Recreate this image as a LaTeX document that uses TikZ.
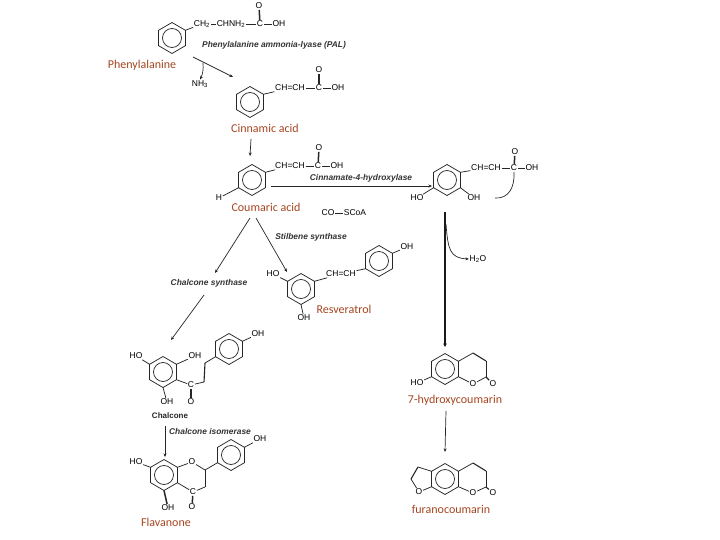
\documentclass[tikz,border=0pt]{standalone}
\usepackage{fontspec}
\setmainfont{Liberation Sans}
\newfontfamily\labelfont{Carlito}
\usetikzlibrary{arrows.meta}
\definecolor{labelbrown}{HTML}{A5451F}
\tikzset{
  bond/.style={line width=0.75pt,black!85},
  dbond/.style={line width=1.5pt,black!85},
  ringdbond/.style={line width=1.1pt,black!85},
  arrowline/.style={line width=0.7pt,black!85,-{Stealth[length=3.5pt,width=3pt]}},
  plainline/.style={line width=0.7pt,black!85},
  heavyline/.style={line width=1.3pt,black!90,-{Stealth[length=3.5pt,width=3.5pt]}},
  atom/.style={font=\fontsize{8.5}{9}\selectfont,inner sep=0.6pt,text=black},
  enzyme/.style={font=\fontsize{8.4}{9}\selectfont\bfseries\itshape,inner sep=0.5pt,text=black!80},
  compound/.style={font=\labelfont\fontsize{12}{13}\selectfont,inner sep=0.5pt,text=labelbrown},
  capname/.style={font=\fontsize{8}{9}\selectfont\bfseries,inner sep=0.5pt,text=black!85}
}
\newcommand{\chemring}[3]{%
  \path (#2,#3-15.5) coordinate (#1t) (#2+13.4,#3-7.7) coordinate (#1ur)
        (#2+13.4,#3+7.7) coordinate (#1lr) (#2,#3+15.5) coordinate (#1b)
        (#2-13.4,#3+7.7) coordinate (#1ll) (#2-13.4,#3-7.7) coordinate (#1ul);
  \draw[bond] (#1t)--(#1ur)--(#1lr)--(#1b)--(#1ll)--(#1ul)--cycle;
  \draw[bond] (#2,#3) circle (9.5pt);
}
\begin{document}
\begin{tikzpicture}[x=1pt,y=-1pt]
\useasboundingbox (0,0) rectangle (720,540);
% Phenylalanine
\chemring{phe}{172}{38}
\node[atom] (pCH) at (202,24) {CH\textsubscript{2}};
\node[atom] (pCHN) at (231,24) {CHNH\textsubscript{2}};
\node[atom] (pC) at (260,24) {C};
\node[atom] (pOH) at (279,24) {OH};
\node[atom] (pO) at (259,6) {O};
\draw[bond] (pheur)--(pCH);
\draw[bond] (pCH)--(pCHN);
\draw[bond] (pCHN)--(pC);
\draw[bond] (pC)--(pOH);
\draw[dbond] (pO)--(pC);
\node[enzyme] (pal) at (274,45) {Phenylalanine ammonia-lyase (PAL)};
\node[compound] (lphe) at (142,65) {Phenylalanine};
\coordinate (a1) at (193,57);
\coordinate (a2) at (233,77);
\coordinate (a3) at (203,63);
\node[atom] (nh3) at (200,84) {NH\textsubscript{3}};
\draw[arrowline] (a1)--(a2);
\draw[arrowline] (a3) to[bend left=15] (nh3.north);
% Cinnamic acid
\chemring{cin}{250}{102}
\node[atom] (cCH) at (290,88) {CH=CH};
\node[atom] (cC) at (319,88) {C};
\node[atom] (cOH) at (338,88) {OH};
\node[atom] (cO) at (319,70) {O};
\draw[bond] (cinur)--(cCH);
\draw[bond] (cCH)--(cC);
\draw[bond] (cC)--(cOH);
\draw[dbond] (cO)--(cC);
\node[compound] (lcin) at (265,128) {Cinnamic acid};
\coordinate (b1) at (251,139);
\coordinate (b2) at (250,156);
\draw[arrowline] (b1)--(b2);
% Coumaric acid
\chemring{cou}{252}{180}
\node[atom] (uCH) at (290,166) {CH=CH};
\node[atom] (uC) at (318,166) {C};
\node[atom] (uOH) at (337,166) {OH};
\node[atom] (uO) at (319,148) {O};
\node[atom] (uH) at (219,198) {H};
\draw[bond] (couur)--(uCH);
\draw[bond] (uCH)--(uC);
\draw[bond] (uC)--(uOH);
\draw[dbond] (uO)--(uC);
\draw[bond] (coull)--(uH);
\node[compound] (lcou) at (266,207) {Coumaric acid};
\node[enzyme] (c4h) at (361,178) {Cinnamate-4-hydroxylase};
\coordinate (d1) at (271,186);
\coordinate (d2) at (432,186);
\draw[arrowline] (d1)--(d2);
\node[atom] (sc1) at (328,213) {CO};
\node[atom] (sc2) at (355,213) {SCoA};
\draw[bond] (sc1)--(sc2);
\node[enzyme] (sts) at (311,237) {Stilbene synthase};
\node[enzyme] (chs) at (209,283) {Chalcone synthase};
% Caffeic
\chemring{caf}{447}{180}
\node[atom] (fCH) at (486,168) {CH=CH};
\node[atom] (fC) at (514,168) {C};
\node[atom] (fOH) at (532,168) {OH};
\node[atom] (fO) at (515,152) {O};
\node[atom] (fHO) at (417,198) {HO};
\node[atom] (fOH2) at (474,198) {OH};
\draw[bond] (cafur)--(fCH);
\draw[bond] (fCH)--(fC);
\draw[bond] (fC)--(fOH);
\draw[dbond] (fO)--(fC);
\draw[bond] (cafll)--(fHO);
\draw[bond] (caflr)--(fOH2);
\coordinate (e2) at (495,198);
\draw[plainline] (fC.south) .. controls (515,188) and (508,199) .. (e2);
% to coumarin
\coordinate (h1) at (445,212);
\coordinate (h2) at (445,347);
\draw[heavyline] (h1)--(h2);
\coordinate (w1) at (446,224);
\node[atom] (h2o) at (478,259) {H\textsubscript{2}O};
\draw[arrowline] (w1) .. controls (448,250) and (450,258) .. (h2o.west);
% Resveratrol
\chemring{rsa}{301}{289}
\chemring{rsb}{379}{261}
\node[atom] (rHO) at (273,274) {HO};
\node[atom] (rCH) at (341,274) {CH=CH};
\node[atom] (rOH) at (407,247) {OH};
\node[atom] (rOHb) at (304,318) {OH};
\draw[bond] (rsaul)--(rHO);
\draw[bond] (rsaur)--(rCH);
\draw[bond] (rCH)--(rsbll);
\draw[bond] (rsbur)--(rOH);
\draw[bond] (rsab)--(rOHb);
\node[compound] (lres) at (344,309) {Resveratrol};
% Branches from coumaric acid
\coordinate (g0) at (250,218);
\coordinate (g1) at (215,273);
\coordinate (g2) at (204,295);
\coordinate (g3) at (171,340);
\coordinate (g4) at (256,218);
\coordinate (g5) at (287,272);
\draw[arrowline] (g0)--(g1);
\draw[arrowline] (g2)--(g3);
\draw[arrowline] (g4)--(g5);
% Chalcone
\chemring{cha}{163}{372}
\chemring{chb}{229}{349}
\node[atom] (kHO) at (136,356) {HO};
\node[atom] (kOH1) at (195,356) {OH};
\node[atom] (kOH2) at (167,402) {OH};
\node[atom] (kC) at (191,385) {C};
\node[atom] (kO) at (191,402) {O};
\node[atom] (kOH3) at (258,334) {OH};
\coordinate (k1) at (204,382);
\coordinate (k2) at (205,363);
\draw[bond] (chaul)--(kHO);
\draw[bond] (chaur)--(kOH1);
\draw[bond] (chab)--(kOH2);
\draw[bond] (chalr)--(kC);
\draw[dbond] (kC)--(kO);
\draw[bond] (kC)--(k1);
\draw[ringdbond] (k1)--(k2);
\draw[bond] (k2)--(chbll);
\draw[bond] (chbur)--(kOH3);
\node[capname] (lcha) at (170,416) {Chalcone};
\node[enzyme] (chi) at (210,431) {Chalcone isomerase};
\coordinate (m1) at (165,426);
\coordinate (m2) at (165,457);
\draw[arrowline] (m1)--(m2);
% Flavanone
\chemring{fla}{164}{475}
\chemring{flb}{231}{455}
\node[atom] (vHO) at (136,462) {HO};
\node[atom] (vO1) at (192,462) {O};
\node[atom] (vC) at (193,492) {C};
\node[atom] (vO2) at (192,507) {O};
\node[atom] (vOH) at (168,508) {OH};
\node[atom] (vOH2) at (260,439) {OH};
\coordinate (v1) at (205,470);
\coordinate (v2) at (205,487);
\draw[bond] (flaul)--(vHO);
\draw[bond] (flaur)--(vO1);
\draw[bond] (vO1)--(v1);
\draw[bond] (v1)--(v2);
\draw[bond] (v2)--(vC);
\draw[bond] (vC)--(flalr);
\draw[dbond] (vC)--(vO2);
\draw[dbond] (flab)--(vOH);
\draw[bond] (v1)--(flbll);
\draw[bond] (flbur)--(vOH2);
\node[compound] (lfla) at (166,522) {Flavanone};
% 7-hydroxycoumarin
\chemring{hca}{445}{369}
\node[atom] (hHO) at (417,383) {HO};
\node[atom] (hO1) at (473,384) {O};
\node[atom] (hO2) at (493,384) {O};
\coordinate (hc1) at (473,353);
\coordinate (hc2) at (486,361);
\coordinate (hc3) at (486,377);
\draw[bond] (hcall)--(hHO);
\draw[bond] (hcaur)--(hc1);
\draw[ringdbond] (hc1)--(hc2);
\draw[bond] (hc2)--(hc3);
\draw[bond] (hc3)--(hO1);
\draw[bond] (hO1)--(hcalr);
\draw[ringdbond] (hc3)--(hO2);
\node[compound] (lhca) at (455,400) {7-hydroxycoumarin};
\coordinate (n1) at (446,411);
\coordinate (n2) at (445,452);
\draw[arrowline] (n1)--(n2);
% furanocoumarin
\chemring{fca}{445}{479}
\node[atom] (qO1) at (419,492) {O};
\node[atom] (qO2) at (473,493) {O};
\node[atom] (qO3) at (493,493) {O};
\coordinate (qc1) at (473,463);
\coordinate (qc2) at (486,471);
\coordinate (qc3) at (486,487);
\coordinate (qf1) at (418,467);
\coordinate (qf2) at (411,479);
\draw[bond] (fcaur)--(qc1);
\draw[ringdbond] (qc1)--(qc2);
\draw[bond] (qc2)--(qc3);
\draw[bond] (qc3)--(qO2);
\draw[bond] (qO2)--(fcalr);
\draw[ringdbond] (qc3)--(qO3);
\draw[bond] (fcaul)--(qf1);
\draw[ringdbond] (qf1)--(qf2);
\draw[bond] (qf2)--(qO1);
\draw[bond] (qO1)--(fcall);
\node[compound] (lfca) at (451,509) {furanocoumarin};
\end{tikzpicture}
\end{document}
